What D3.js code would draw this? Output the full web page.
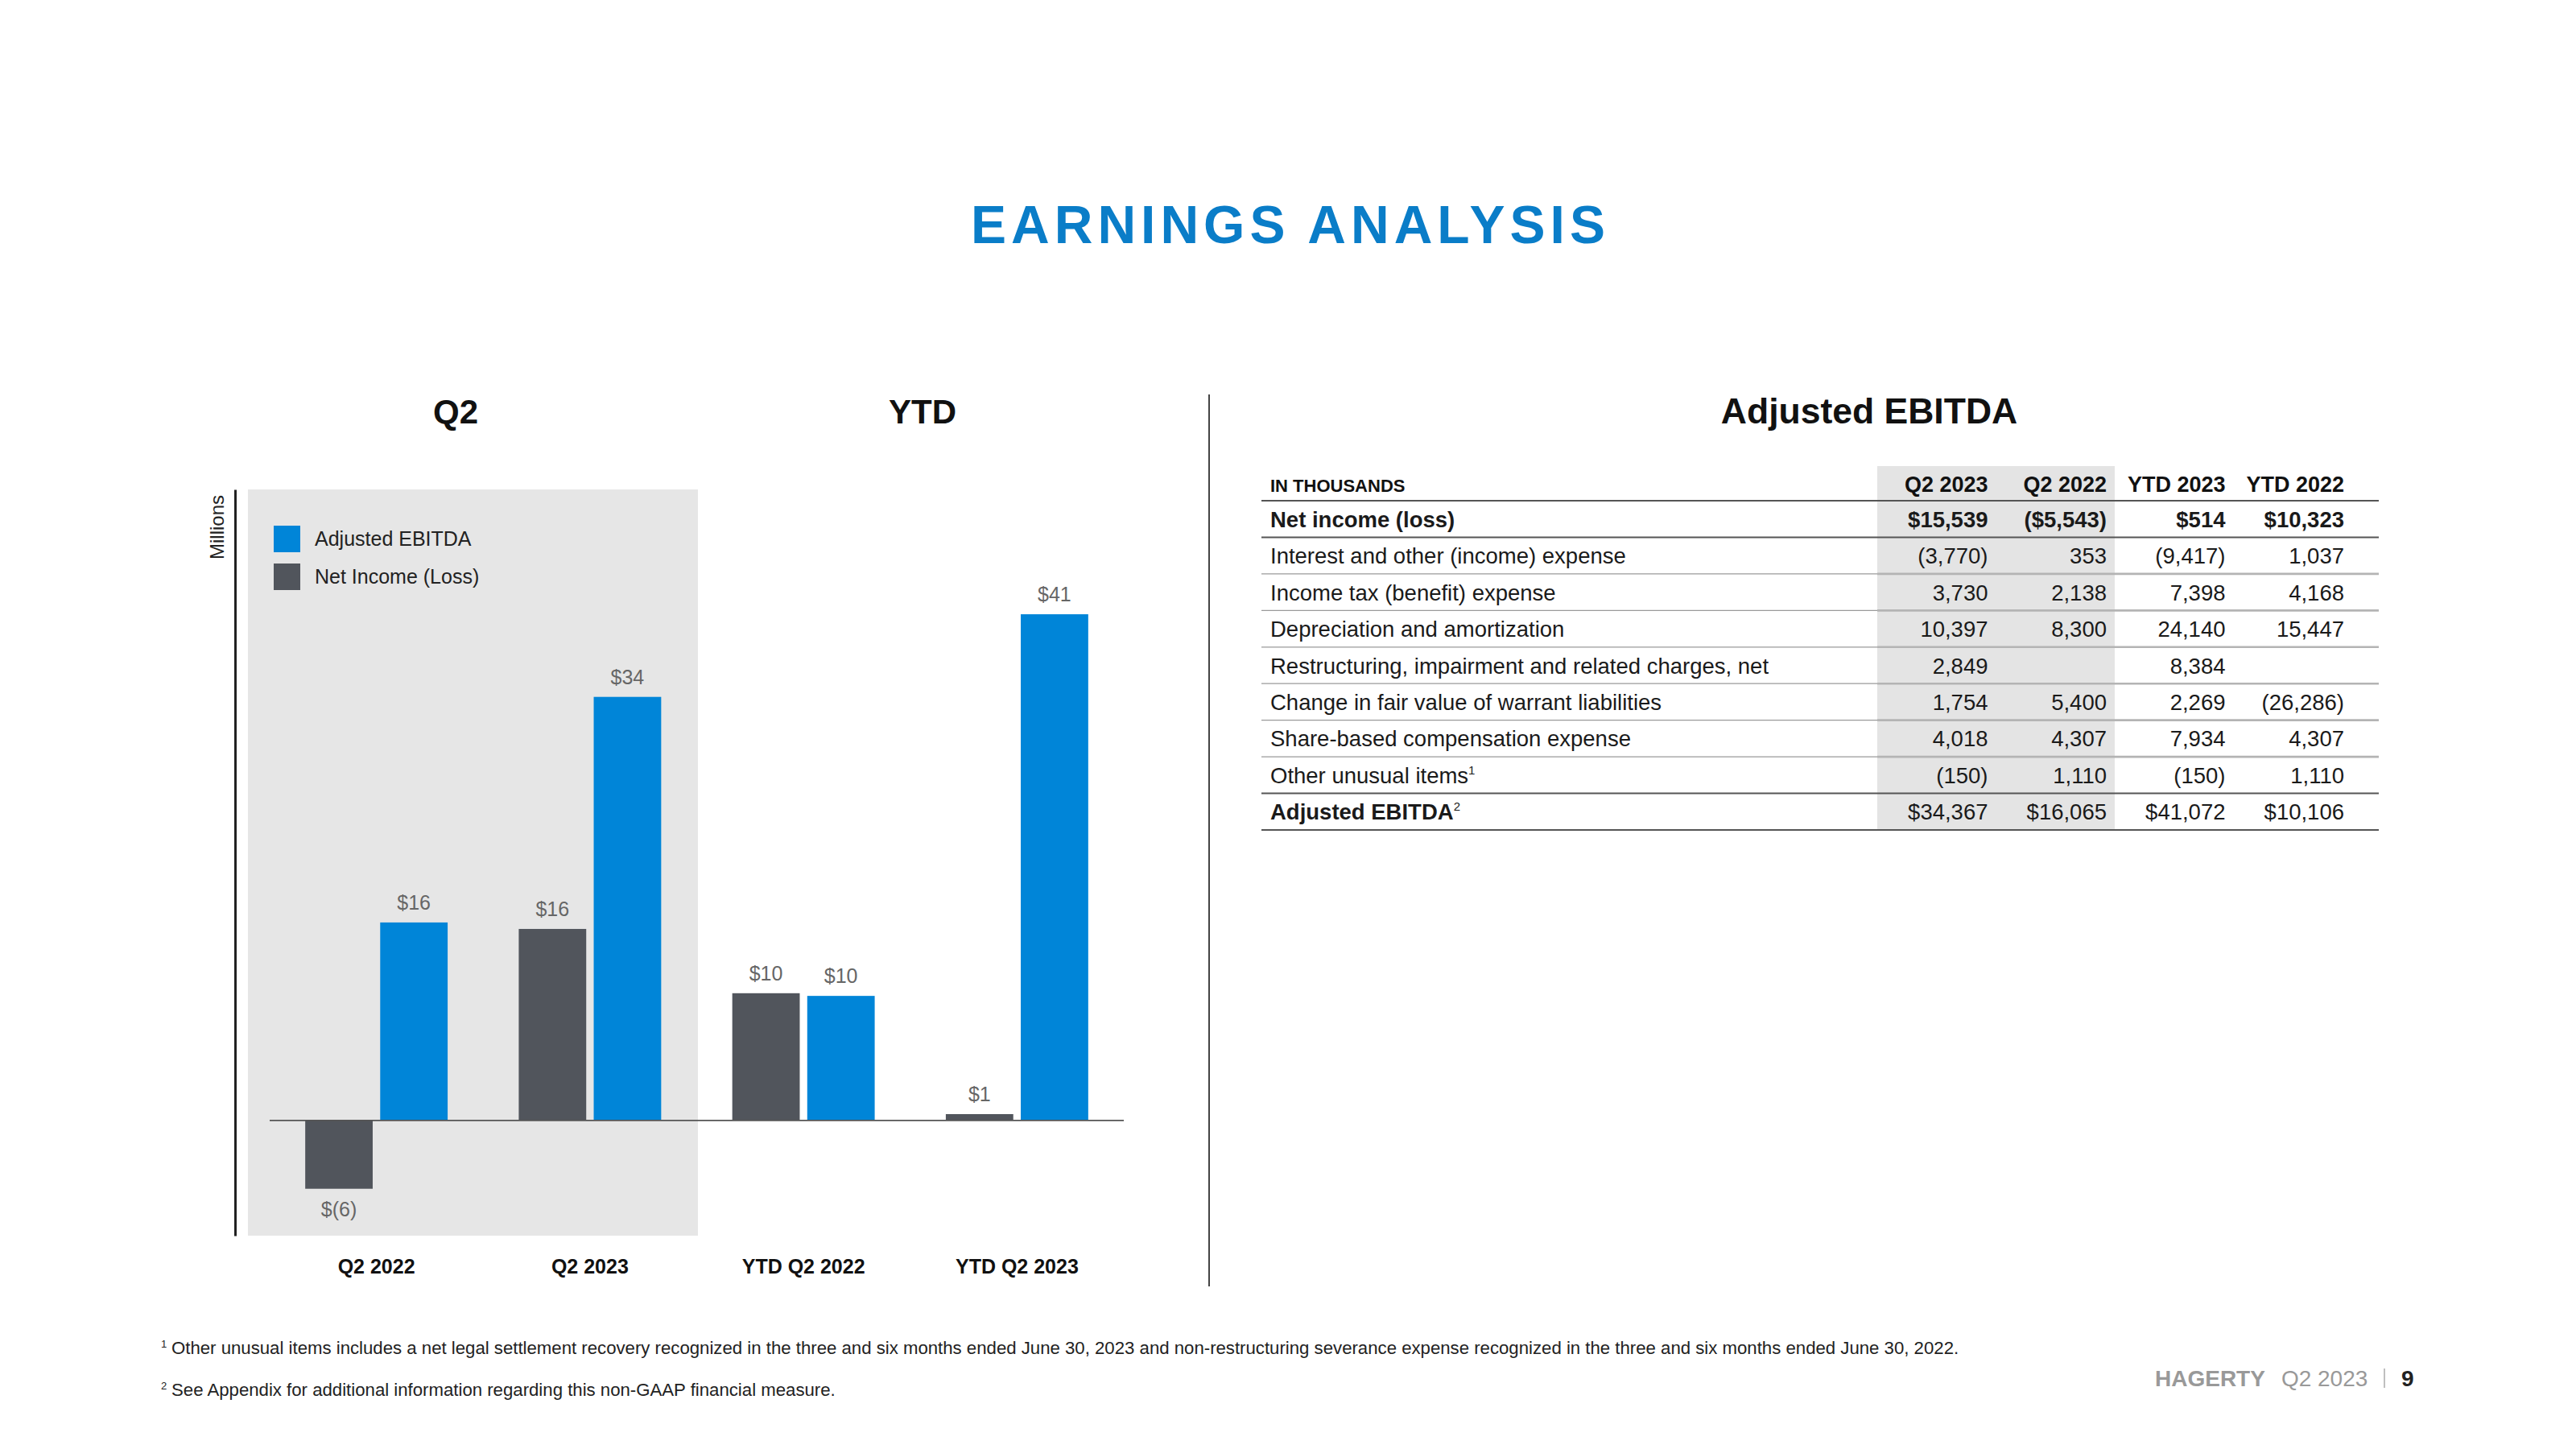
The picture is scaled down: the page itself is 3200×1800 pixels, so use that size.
<!DOCTYPE html>
<html>
<head>
<meta charset="utf-8">
<script src="https://cdn.jsdelivr.net/npm/d3@7"></script>
<style>
  html, body { margin: 0; padding: 0; background: #ffffff; }
  svg { display: block; }
  text { font-family: "Liberation Sans", Arial, Helvetica, sans-serif; }
</style>
</head>
<body>
<script>
// ---------- DATA ----------
const categories = ["Q2 2022", "Q2 2023", "YTD Q2 2022", "YTD Q2 2023"];
const seriesNames = ["Net Income (Loss)", "Adjusted EBITDA"];
const netIncome = [-5.543, 15.539, 10.323, 0.514];      // $ millions
const adjEbitda = [16.065, 34.367, 10.106, 41.072];     // $ millions
const legendItems = ["Adjusted EBITDA", "Net Income (Loss)"];

const tableColumns = ["Q2 2023", "Q2 2022", "YTD 2023", "YTD 2022"];
const tableRows = [
  "Net income (loss)",
  "Interest and other (income) expense",
  "Income tax (benefit) expense",
  "Depreciation and amortization",
  "Restructuring, impairment and related charges, net",
  "Change in fair value of warrant liabilities",
  "Share-based compensation expense",
  "Other unusual items",
  "Adjusted EBITDA"
];
const rowNotes = ["", "", "", "", "", "", "", "1", "2"];
const tableValues = [
  ["$15,539", "($5,543)", "$514", "$10,323"],
  ["(3,770)", "353", "(9,417)", "1,037"],
  ["3,730", "2,138", "7,398", "4,168"],
  ["10,397", "8,300", "24,140", "15,447"],
  ["2,849", "", "8,384", ""],
  ["1,754", "5,400", "2,269", "(26,286)"],
  ["4,018", "4,307", "7,934", "4,307"],
  ["(150)", "1,110", "(150)", "1,110"],
  ["$34,367", "$16,065", "$41,072", "$10,106"]
];
const footnotes = [
  ["1", "Other unusual items includes a net legal settlement recovery recognized in the three and six months ended June 30, 2023 and non-restructuring severance expense recognized in the three and six months ended June 30, 2022."],
  ["2", "See Appendix for additional information regarding this non-GAAP financial measure."]
];

// ---------- STYLE ----------
const BLUE = "#0085d8";
const DARK = "#51555c";
const TITLE_BLUE = "#0a7dc8";

const W = 3200, H = 1800;
const svg = d3.select("body").append("svg").attr("width", W).attr("height", H);
svg.append("rect").attr("width", W).attr("height", H).attr("fill", "#fff");

// ---------- TITLE ----------
svg.append("text")
  .attr("x", 1603).attr("y", 302)
  .attr("text-anchor", "middle")
  .attr("font-size", 66).attr("font-weight", 700)
  .attr("letter-spacing", 6)
  .attr("fill", TITLE_BLUE)
  .text("EARNINGS ANALYSIS");

// Section headers
[["Q2", 566, 42], ["YTD", 1146, 42], ["Adjusted EBITDA", 2322, 44.5]].forEach(([t, x, fs]) => {
  svg.append("text").attr("x", x).attr("y", 526)
    .attr("text-anchor", "middle")
    .attr("font-size", fs).attr("font-weight", 700)
    .attr("fill", "#111").text(t);
});

// Divider
svg.append("line").attr("x1", 1502).attr("x2", 1502).attr("y1", 490).attr("y2", 1598)
  .attr("stroke", "#444").attr("stroke-width", 2);

// ---------- BAR CHART ----------
const plotTop = 608, plotBottom = 1535;
const y = d3.scaleLinear().domain([-9.35, 51.2]).range([plotBottom, plotTop]);
const x0 = d3.scaleBand().domain(categories).range([335, 1396]).paddingInner(0.333).paddingOuter(0.1665);
const x1 = d3.scaleBand().domain(seriesNames).range([0, x0.bandwidth()]).paddingInner(0.1);
const color = d3.scaleOrdinal().domain(seriesNames).range([DARK, BLUE]);

// gray background behind Q2 groups
svg.append("rect")
  .attr("x", 308).attr("y", plotTop)
  .attr("width", 867 - 308).attr("height", plotBottom - plotTop)
  .attr("fill", "#e6e6e6");

// y axis (line only)
const yAxis = svg.append("g").attr("transform", "translate(292,0)")
  .call(d3.axisLeft(y).ticks(0).tickSizeOuter(0));
yAxis.select(".domain").attr("stroke", "#222").attr("stroke-width", 3);

svg.append("text")
  .attr("transform", "translate(278,655) rotate(-90)")
  .attr("text-anchor", "middle")
  .attr("font-size", 24).attr("fill", "#222")
  .text("Millions");

// legend
legendItems.forEach((name, i) => {
  const g = svg.append("g").attr("transform", `translate(340,${653 + i * 47})`);
  g.append("rect").attr("width", 33).attr("height", 33).attr("fill", color(name));
  g.append("text").attr("x", 51).attr("y", 25).attr("font-size", 25).attr("fill", "#222").text(name);
});

const fmt = v => "$" + (v < 0 ? "(" + Math.round(-v) + ")" : Math.round(v));

const barData = [];
categories.forEach((c, i) => {
  barData.push({ cat: c, series: seriesNames[0], value: netIncome[i] });
  barData.push({ cat: c, series: seriesNames[1], value: adjEbitda[i] });
});

svg.append("g").selectAll("rect").data(barData).join("rect")
  .attr("x", d => x0(d.cat) + x1(d.series))
  .attr("width", x1.bandwidth())
  .attr("y", d => y(Math.max(0, d.value)))
  .attr("height", d => Math.abs(y(d.value) - y(0)))
  .attr("fill", d => color(d.series));

// zero line
svg.append("line")
  .attr("x1", x0.range()[0]).attr("x2", x0.range()[1])
  .attr("y1", y(0)).attr("y2", y(0))
  .attr("stroke", "#555").attr("stroke-width", 1.6);

svg.append("g").selectAll("text").data(barData).join("text")
  .attr("x", d => x0(d.cat) + x1(d.series) + x1.bandwidth() / 2)
  .attr("y", d => d.value >= 0 ? y(d.value) - 16 : y(d.value) + 34)
  .attr("text-anchor", "middle")
  .attr("font-size", 25).attr("fill", "#666")
  .text(d => fmt(d.value));

// x axis labels
const xAxis = svg.append("g").attr("transform", "translate(0,1564)")
  .call(d3.axisBottom(x0).tickSize(0).tickPadding(0));
xAxis.select(".domain").remove();
xAxis.selectAll("text")
  .attr("font-size", 25).attr("font-weight", 700).attr("fill", "#111")
  .attr("font-family", "'Liberation Sans', Arial, sans-serif");

// ---------- TABLE ----------
const tLeft = 1567, tRight = 2955;
const rowY = d3.scaleBand().domain(d3.range(tableRows.length)).range([622, 1031]);
const colX = d3.scaleBand().domain(tableColumns).range([2322, 2912]);

// shaded Q2 columns
svg.append("rect")
  .attr("x", colX(tableColumns[0]) + 10).attr("y", 579)
  .attr("width", colX(tableColumns[1]) + colX.bandwidth() - colX(tableColumns[0]))
  .attr("height", 1031 - 579)
  .attr("fill", "#e4e4e4");

const shadeLeft = colX(tableColumns[0]) + 10;

// header
svg.append("text").attr("x", 1578).attr("y", 611)
  .attr("font-size", 22).attr("font-weight", 700).attr("fill", "#111")
  .text("IN THOUSANDS");
svg.append("g").selectAll("text").data(tableColumns).join("text")
  .attr("x", d => colX(d) + colX.bandwidth())
  .attr("y", 611)
  .attr("text-anchor", "end")
  .attr("font-size", 27).attr("font-weight", 700).attr("fill", "#111")
  .text(d => d);

// row lines
const boundaries = d3.range(tableRows.length + 1);
boundaries.forEach(b => {
  const yy = b < tableRows.length ? rowY(b) : rowY.range()[1];
  const dark = (b === 0 || b === 1 || b === tableRows.length - 1 || b === tableRows.length);
  if (dark) {
    svg.append("line").attr("x1", tLeft).attr("x2", tRight).attr("y1", yy).attr("y2", yy)
      .attr("stroke", "#555").attr("stroke-width", 2);
  } else {
    svg.append("line").attr("x1", tLeft).attr("x2", shadeLeft).attr("y1", yy).attr("y2", yy)
      .attr("stroke", "#9a9a9a").attr("stroke-width", 1.3);
    svg.append("line").attr("x1", shadeLeft).attr("x2", tRight).attr("y1", yy).attr("y2", yy)
      .attr("stroke", "#b4b4b4").attr("stroke-width", 2.6);
  }
});

// rows
tableRows.forEach((label, i) => {
  const base = rowY(i) + rowY.step() / 2 + 10;
  const boldLabel = (i === 0 || i === tableRows.length - 1);
  const boldVals = (i === 0);
  const t = svg.append("text").attr("x", 1578).attr("y", base)
    .attr("font-size", 27.5).attr("font-weight", boldLabel ? 700 : 400).attr("fill", "#1a1a1a")
    .text(label);
  if (rowNotes[i]) {
    t.append("tspan").attr("font-size", 15).attr("dy", -11).attr("font-weight", 400).text(rowNotes[i]);
  }
  tableColumns.forEach((c, j) => {
    svg.append("text")
      .attr("x", colX(c) + colX.bandwidth())
      .attr("y", base)
      .attr("text-anchor", "end")
      .attr("font-size", 27.5).attr("font-weight", boldVals ? 700 : 400).attr("fill", "#1a1a1a")
      .text(tableValues[i][j]);
  });
});

// ---------- FOOTNOTES ----------
footnotes.forEach(([n, txt], i) => {
  const yy = 1682 + i * 52;
  svg.append("text").attr("x", 200).attr("y", yy - 8).attr("font-size", 13).attr("fill", "#222").text(n);
  svg.append("text").attr("x", 213).attr("y", yy).attr("font-size", 22.2).attr("fill", "#222").text(txt);
});

// ---------- FOOTER ----------
const footer = svg.append("text").attr("x", 2677).attr("y", 1722).attr("font-size", 28);
footer.append("tspan").attr("font-weight", 700).attr("fill", "#999").text("HAGERTY");
footer.append("tspan").attr("dx", 20).attr("fill", "#999").text("Q2 2023");
svg.append("line").attr("x1", 2962).attr("x2", 2962).attr("y1", 1700).attr("y2", 1724)
  .attr("stroke", "#aaa").attr("stroke-width", 1.5);
svg.append("text").attr("x", 2983).attr("y", 1722).attr("font-size", 28).attr("font-weight", 700)
  .attr("fill", "#222").text("9");
</script>
</body>
</html>
